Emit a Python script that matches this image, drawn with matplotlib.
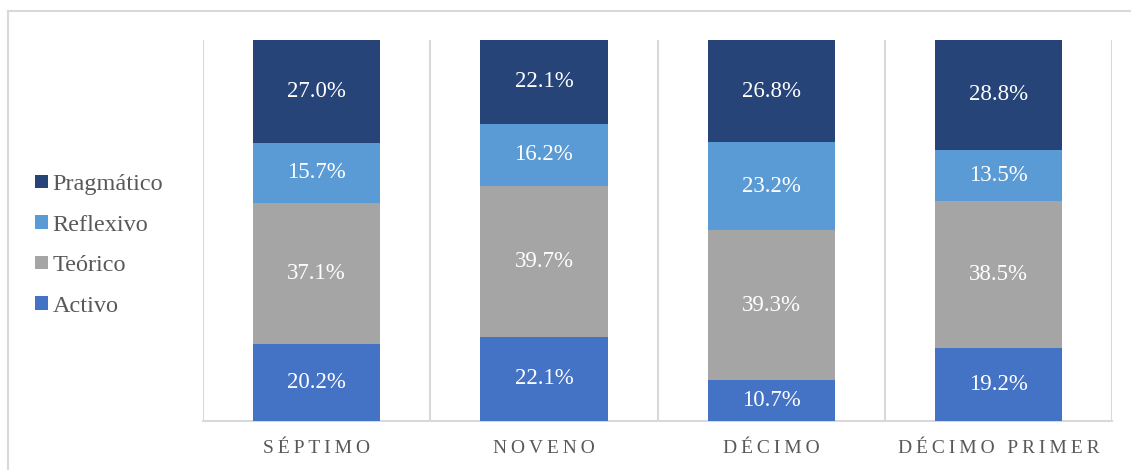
import matplotlib.pyplot as plt
from matplotlib.lines import Line2D
import numpy as np

plt.rcParams['font.family'] = ['Liberation Serif', 'DejaVu Serif']

# Data
grados = ['SÉPTIMO', 'NOVENO', 'DÉCIMO', 'DÉCIMO PRIMER']
activo = [20.2, 22.1, 10.7, 19.2]
teorico = [37.1, 39.7, 39.3, 38.5]
reflexivo = [15.7, 16.2, 23.2, 13.5]
pragmatico = [27.0, 22.1, 26.8, 28.8]

series = [('Activo', activo, '#4472C4'),
          ('Teórico', teorico, '#A5A5A5'),
          ('Reflexivo', reflexivo, '#5B9BD5'),
          ('Pragmático', pragmatico, '#264478')]


def spaced(s):
	# emulate the letter spacing of the category labels
	return '\u2009'.join(s).replace('\u2009 \u2009', '\u2009 \u2009')


def main():
	fig = plt.figure(figsize=(11.31, 4.70), dpi=100)
	ax = fig.add_axes([0.1795, 0.1043, 0.9832 - 0.1795, 0.9149 - 0.1043])

	x = np.arange(len(grados))
	bottom = np.zeros(len(grados))
	handles = []
	for name, vals, color in series:
		vals = np.array(vals)
		b = ax.bar(x, vals, 0.56, bottom=bottom, color=color, label=name, zorder=3)
		handles.append(b)
		for xi, v, b0 in zip(x, vals, bottom):
			ax.text(xi, b0 + v / 2, f'{v:.1f}%', ha='center', va='center',
					color='white', fontsize=16.5, zorder=4)
		bottom += vals

	ax.set_xlim(-0.5, len(grados) - 0.5)
	ax.set_ylim(0, 100)
	ax.set_yticks([])
	ax.set_xticks(x)
	ax.set_xticklabels([spaced(g) for g in grados], fontsize=14, color='#595959')
	ax.tick_params(axis='x', length=0, pad=14)

	# category separators
	for xb in np.arange(-0.5, len(grados), 1.0):
		ax.axvline(xb, color='#D9D9D9', lw=1.5, zorder=1)
	for side in ['top', 'left', 'right']:
		ax.spines[side].set_visible(False)
	ax.spines['bottom'].set_color('#D9D9D9')
	ax.spines['bottom'].set_linewidth(1.5)

	leg = fig.legend(handles[::-1], [s[0] for s in series][::-1],
					 loc='center left', bbox_to_anchor=(0.012, 0.478),
					 frameon=False, fontsize=17.5, handlelength=0.5,
					 handleheight=0.5, handletextpad=0.2, labelspacing=0.8)
	for t in leg.get_texts():
		t.set_color('#595959')

	# outer chart border
	fig.add_artist(Line2D([7.5 / 1131, 7.5 / 1131], [0, 1 - 10.5 / 470],
						  transform=fig.transFigure, color='#D9D9D9', lw=1.5))
	fig.add_artist(Line2D([7.5 / 1131, 1], [1 - 10.5 / 470, 1 - 10.5 / 470],
						  transform=fig.transFigure, color='#D9D9D9', lw=1.5))

	fig.savefig('out.png', dpi=100)


if __name__ == "__main__":
	main()
